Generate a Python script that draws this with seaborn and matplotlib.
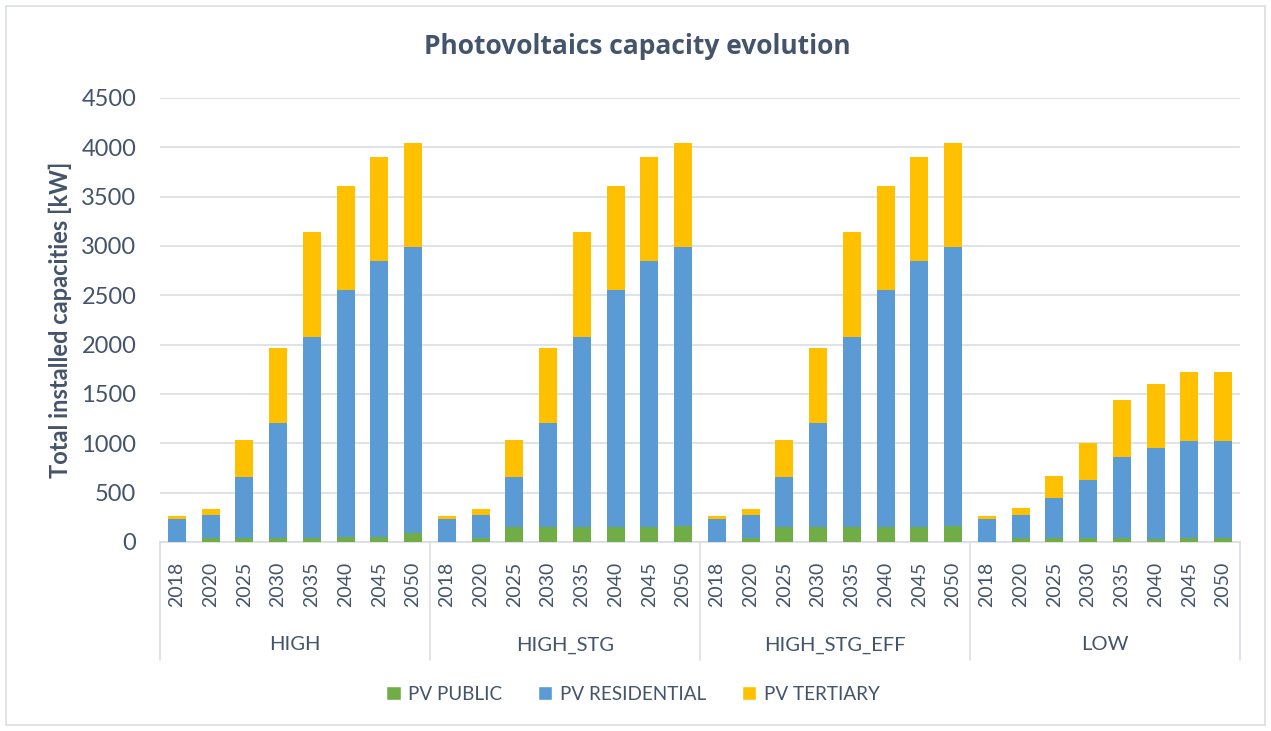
import matplotlib
matplotlib.use("Agg")
import matplotlib.pyplot as plt
import matplotlib.transforms as mtransforms
from matplotlib.patches import Patch, Rectangle
import seaborn as sns
import pandas as pd
import numpy as np

scenarios = ["HIGH", "HIGH_STG", "HIGH_STG_EFF", "LOW"]
years = ["2018", "2020", "2025", "2030", "2035", "2040", "2045", "2050"]

pv_public = {
    "HIGH":         [5, 45, 45, 45, 45, 50, 55, 95],
    "HIGH_STG":     [5, 45, 150, 150, 150, 150, 150, 160],
    "HIGH_STG_EFF": [5, 45, 150, 150, 150, 150, 150, 160],
    "LOW":          [5, 40, 40, 40, 40, 30, 40, 40],
}
pv_residential = {
    "HIGH":         [230, 230, 615, 1160, 2035, 2500, 2795, 2895],
    "HIGH_STG":     [230, 230, 510, 1055, 1930, 2400, 2700, 2830],
    "HIGH_STG_EFF": [230, 230, 510, 1055, 1930, 2400, 2700, 2830],
    "LOW":          [225, 230, 410, 590, 820, 920, 980, 980],
}
pv_tertiary = {
    "HIGH":         [30, 60, 370, 760, 1065, 1060, 1050, 1050],
    "HIGH_STG":     [30, 60, 370, 760, 1065, 1060, 1050, 1050],
    "HIGH_STG_EFF": [30, 60, 370, 760, 1065, 1060, 1050, 1050],
    "LOW":          [30, 70, 215, 375, 580, 655, 705, 705],
}

series_names = ["PV PUBLIC", "PV RESIDENTIAL", "PV TERTIARY"]
colors = {"PV PUBLIC": "#70AD47", "PV RESIDENTIAL": "#5B9BD5", "PV TERTIARY": "#FFC000"}

rows = []
for s in scenarios:
    for i, y in enumerate(years):
        p = pv_public[s][i]
        r = pv_residential[s][i]
        t = pv_tertiary[s][i]
        rows.append({"key": f"{s}|{y}", "scenario": s, "year": y,
                     "c_public": p, "c_res": p + r, "c_ter": p + r + t})
df = pd.DataFrame(rows)
order = list(df["key"])

sns.set_theme(style="white")
plt.rcParams["font.family"] = ["Lato", "DejaVu Sans"]
txt = "#44546A"
grid_c = "#D9DDE3"

fig = plt.figure(figsize=(12.71, 7.31), dpi=100)
ax = fig.add_axes([160 / 1271, 1 - 542 / 731, 1080 / 1271, (542 - 98) / 731])

for col, name in [("c_ter", "PV TERTIARY"), ("c_res", "PV RESIDENTIAL"), ("c_public", "PV PUBLIC")]:
    sns.barplot(data=df, x="key", y=col, order=order, color=colors[name],
                width=0.53, saturation=1, ax=ax, errorbar=None, zorder=3,
                linewidth=0, edgecolor="none")

ax.set_ylim(0, 4500)
ax.set_xlim(-0.5, len(order) - 0.5)
ax.set_yticks(np.arange(0, 4501, 500))
ax.yaxis.grid(True, color=grid_c, linewidth=1.2, zorder=0)
ax.set_axisbelow(True)
for sp in ["top", "right", "left"]:
    ax.spines[sp].set_visible(False)
ax.spines["bottom"].set_color(grid_c)
ax.spines["bottom"].set_linewidth(1.2)

ax.tick_params(axis="y", labelsize=17, colors=txt, length=0, pad=17)
ax.set_xticks(range(len(order)))
ax.set_xticklabels(df["year"], rotation=90, fontsize=14, color=txt)
ax.tick_params(axis="x", length=0, pad=14)
ax.set_xlabel("")
ax.set_ylabel("Total installed capacities [kW]", fontsize=17, fontweight="bold",
              color=txt, labelpad=7)

# group separators and labels
trans = mtransforms.blended_transform_factory(ax.transData, ax.transAxes)
n = len(years)
sep_bottom = -(660 - 542) / (542 - 98)
for g in range(len(scenarios) + 1):
    xpos = g * n - 0.5
    ax.plot([xpos, xpos], [0, sep_bottom], transform=trans, color=grid_c,
            linewidth=1.2, clip_on=False)
for g, s in enumerate(scenarios):
    xc = g * n + (n - 1) / 2
    ax.text(xc, -(645 - 542) / (542 - 98), s, transform=trans, ha="center",
            va="center", fontsize=14.5, color=txt)

fig.text(637 / 1271, 1 - 46 / 731, "Photovoltaics capacity evolution", fontsize=19,
         fontweight="bold", color=txt, ha="center", va="center",
         family=["Open Sans", "DejaVu Sans"])

handles = [Patch(facecolor=colors[nm], label=nm) for nm in series_names]
fig.legend(handles=handles, loc="center", bbox_to_anchor=(633 / 1271, 1 - 694 / 731),
           ncol=3, frameon=False, fontsize=13.6, labelcolor=txt,
           handlelength=0.75, handleheight=0.75, handletextpad=0.4, columnspacing=1.9)

fig.patches.append(Rectangle((6 / 1271, 6 / 731), 1259 / 1271, 719 / 731,
                             transform=fig.transFigure, fill=False,
                             edgecolor=grid_c, linewidth=1.2))

fig.savefig("out.png", dpi=100, facecolor="white")
